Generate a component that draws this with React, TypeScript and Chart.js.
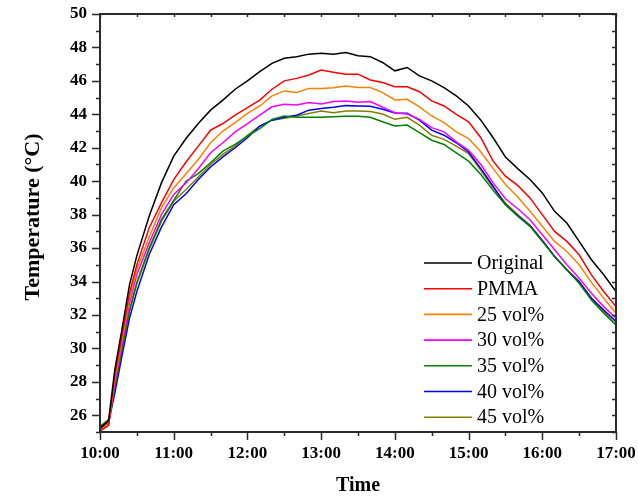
import React, { useEffect, useRef } from 'react';
import { Chart, registerables } from 'chart.js';

Chart.register(...registerables);

// minutes after 10:00
const times = [0, 7, 12, 18, 24, 30, 40, 50, 60, 70, 80, 90, 100, 110, 120, 130, 140, 150, 160, 170, 180, 190, 200, 210, 220, 230, 240, 250, 260, 270, 280, 290, 300, 310, 320, 330, 340, 350, 360, 370, 380, 390, 400, 410, 420];

const original = [25.2, 25.7, 28.7, 31.2, 33.8, 35.55, 37.9, 39.9, 41.5, 42.55, 43.45, 44.25, 44.85, 45.5, 46.0, 46.55, 47.05, 47.35, 47.45, 47.6, 47.65, 47.6, 47.7, 47.5, 47.45, 47.1, 46.6, 46.8, 46.3, 46.0, 45.6, 45.1, 44.5, 43.65, 42.6, 41.45, 40.75, 40.1, 39.3, 38.2, 37.5, 36.4, 35.3, 34.4, 33.4];
const pmma = [25.05, 25.4, 28.35, 30.8, 33.3, 35.0, 37.2, 38.7, 40.1, 41.15, 42.1, 43.05, 43.45, 43.95, 44.4, 44.85, 45.5, 46.0, 46.15, 46.35, 46.65, 46.51, 46.4, 46.4, 46.05, 45.9, 45.65, 45.65, 45.35, 44.8, 44.5, 44.0, 43.55, 42.6, 41.2, 40.3, 39.75, 39.0, 38.0, 37.0, 36.4, 35.6, 34.4, 33.4, 32.5];
const vol25 = [25.1, 25.5, 28.15, 30.55, 33.0, 34.7, 36.65, 38.4, 39.6, 40.45, 41.3, 42.3, 43.0, 43.5, 44.05, 44.5, 45.1, 45.4, 45.3, 45.55, 45.55, 45.59, 45.7, 45.6, 45.6, 45.3, 44.86, 44.9, 44.45, 43.9, 43.5, 42.95, 42.55, 41.75, 40.75, 39.8, 39.05, 38.2, 37.3, 36.4, 35.8, 35.0, 33.95, 33.0, 32.1];
const vol30 = [25.1, 25.45, 27.95, 30.3, 32.7, 34.4, 36.3, 38.0, 39.2, 39.9, 40.75, 41.7, 42.3, 42.95, 43.45, 43.95, 44.45, 44.6, 44.56, 44.7, 44.62, 44.76, 44.8, 44.72, 44.76, 44.42, 44.1, 44.02, 43.7, 43.2, 42.95, 42.35, 41.85, 41.0, 39.9, 38.95, 38.35, 37.7, 36.8, 35.9, 35.0, 34.2, 33.3, 32.5, 31.8];
const vol35 = [25.2, 25.55, 27.65, 30.0, 32.3, 33.95, 36.0, 37.7, 38.85, 40.0, 40.45, 41.1, 41.8, 42.2, 42.7, 43.15, 43.7, 43.9, 43.82, 43.82, 43.82, 43.85, 43.88, 43.88, 43.82, 43.56, 43.3, 43.36, 42.9, 42.45, 42.2, 41.7, 41.2, 40.4, 39.45, 38.6, 37.9, 37.3, 36.4, 35.5, 34.7, 33.9, 32.9, 32.1, 31.4];
const vol40 = [25.3, 25.6, 27.3, 29.6, 31.8, 33.4, 35.6, 37.25, 38.6, 39.25, 40.1, 40.85, 41.45, 42.0, 42.6, 43.3, 43.65, 43.82, 43.95, 44.25, 44.35, 44.42, 44.52, 44.5, 44.48, 44.3, 44.08, 44.06, 43.65, 43.05, 42.75, 42.3, 41.75, 40.75, 39.7, 38.6, 37.95, 37.35, 36.45, 35.5, 34.7, 34.0, 33.0, 32.3, 31.6];
const vol45 = [25.35, 25.75, 27.6, 29.9, 32.2, 33.85, 35.9, 37.6, 38.8, 39.5, 40.25, 41.0, 41.6, 42.1, 42.75, 43.3, 43.65, 43.76, 43.9, 44.05, 44.2, 44.1, 44.2, 44.2, 44.17, 44.02, 43.7, 43.82, 43.35, 42.75, 42.5, 42.1, 41.65, 40.65, 39.6, 38.7, 38.0, 37.35, 36.45, 35.5, 34.7, 33.95, 33.0, 32.2, 31.4];

const seriesNames = ['Original', 'PMMA', '25 vol%', '30 vol%', '35 vol%', '40 vol%', '45 vol%'];
const seriesValues = [original, pmma, vol25, vol30, vol35, vol40, vol45];
const seriesColors = ['#000000', '#ff0000', '#ff8000', '#ff00ff', '#008000', '#0000ff', '#808000'];

const xTickValues = [0, 60, 120, 180, 240, 300, 360, 420];
const xTickLabels = ['10:00', '11:00', '12:00', '13:00', '14:00', '15:00', '16:00', '17:00'];
const yTickValues = [26, 28, 30, 32, 34, 36, 38, 40, 42, 44, 46, 48, 50];

const SERIF = "'Liberation Serif', 'Times New Roman', serif";

const framePlugin = {
  id: 'frame',
  afterDatasetsDraw(chart: any) {
    const { ctx, chartArea: a, scales } = chart;
    const x = scales.x;
    const y = scales.y;
    ctx.save();
    ctx.strokeStyle = '#2b2b2b';
    ctx.lineWidth = 1.5;
    for (let v = 25; v <= 50; v += 1) {
      const py = Math.round(y.getPixelForValue(v)) + 0.5;
      const major = v % 2 === 0;
      ctx.beginPath();
      ctx.moveTo(a.left - (major ? 8 : 4), py);
      ctx.lineTo(a.left, py);
      ctx.moveTo(a.right - 4, py);
      ctx.lineTo(a.right, py);
      ctx.stroke();
    }
    for (let m = 0; m <= 420; m += 30) {
      const px = Math.round(x.getPixelForValue(m)) + 0.5;
      const major = m % 60 === 0;
      ctx.beginPath();
      ctx.moveTo(px, a.bottom);
      ctx.lineTo(px, a.bottom + (major ? 8 : 4));
      ctx.moveTo(px, a.top);
      ctx.lineTo(px, a.top + 3);
      ctx.stroke();
    }
    ctx.lineWidth = 2;
    ctx.strokeRect(a.left, a.top, a.right - a.left, a.bottom - a.top);

    // legend
    const lx = a.left + 324;
    const ly = a.top + 249;
    const step = 25.7;
    ctx.font = `20px ${SERIF}`;
    ctx.textBaseline = 'middle';
    ctx.textAlign = 'left';
    chart.data.datasets.forEach((ds: any, i: number) => {
      const yy = ly + i * step;
      ctx.strokeStyle = ds.borderColor;
      ctx.lineWidth = 1.6;
      ctx.beginPath();
      ctx.moveTo(lx, yy);
      ctx.lineTo(lx + 48, yy);
      ctx.stroke();
      ctx.fillStyle = '#000';
      ctx.fillText(ds.label, lx + 53, yy + 1);
    });

    // y title
    ctx.save();
    ctx.translate(33, 217);
    ctx.rotate(-Math.PI / 2);
    ctx.font = `bold 22px ${SERIF}`;
    ctx.textAlign = 'center';
    ctx.textBaseline = 'middle';
    ctx.fillStyle = '#000';
    ctx.fillText('Temperature (\u00b0C)', 0, 0);
    ctx.restore();
    ctx.restore();
  },
};

export default function App() {
  const ref = useRef<HTMLCanvasElement | null>(null);
  useEffect(() => {
    if (!ref.current) return;
    const chart = new Chart(ref.current, {
      type: 'line',
      data: {
        datasets: seriesNames.map((name, i) => ({
          label: name,
          data: times.map((t, j) => ({ x: t, y: seriesValues[i][j] })),
          borderColor: seriesColors[i],
          backgroundColor: seriesColors[i],
          borderWidth: 1.5,
          pointRadius: 0,
          tension: 0,
        })),
      },
      options: {
        animation: false,
        responsive: false,
        layout: { padding: { top: 14, right: 22, left: 0, bottom: 0 } },
        plugins: { legend: { display: false }, tooltip: { enabled: false } },
        scales: {
          x: {
            type: 'linear',
            min: 0,
            max: 420,
            grid: { display: false, drawTicks: false },
            border: { display: false },
            afterBuildTicks: (s: any) => {
              s.ticks = xTickValues.map((v) => ({ value: v }));
            },
            afterFit: (s: any) => {
              s.height = 64;
              s.paddingLeft = 0;
              s.paddingRight = 0;
            },
            ticks: {
              autoSkip: false,
              maxRotation: 0,
              padding: 11,
              color: '#000',
              font: { family: SERIF, size: 17, weight: 'bold' },
              callback: (_v: any, i: number) => xTickLabels[i],
            },
            title: {
              display: true,
              text: 'Time',
              color: '#000',
              padding: { top: -2, bottom: 0 },
              font: { family: SERIF, size: 20, weight: 'bold', lineHeight: 1 },
            },
          },
          y: {
            type: 'linear',
            min: 25,
            max: 50,
            grid: { display: false, drawTicks: false },
            border: { display: false },
            afterBuildTicks: (s: any) => {
              s.ticks = yTickValues.map((v) => ({ value: v }));
            },
            afterFit: (s: any) => {
              s.width = 100;
              s.paddingTop = 0;
              s.paddingBottom = 0;
            },
            ticks: {
              padding: 13,
              color: '#000',
              font: { family: SERIF, size: 17, weight: 'bold' },
              callback: (v: any) => String(v),
            },
          },
        },
      },
      plugins: [framePlugin],
    } as any);
    return () => chart.destroy();
  }, []);
  return (
    <div style={{ position: 'fixed', left: 0, top: 0, width: 638, height: 496, background: '#fff' }}>
      <canvas ref={ref} width={638} height={496} style={{ display: 'block' }} />
    </div>
  );
}
